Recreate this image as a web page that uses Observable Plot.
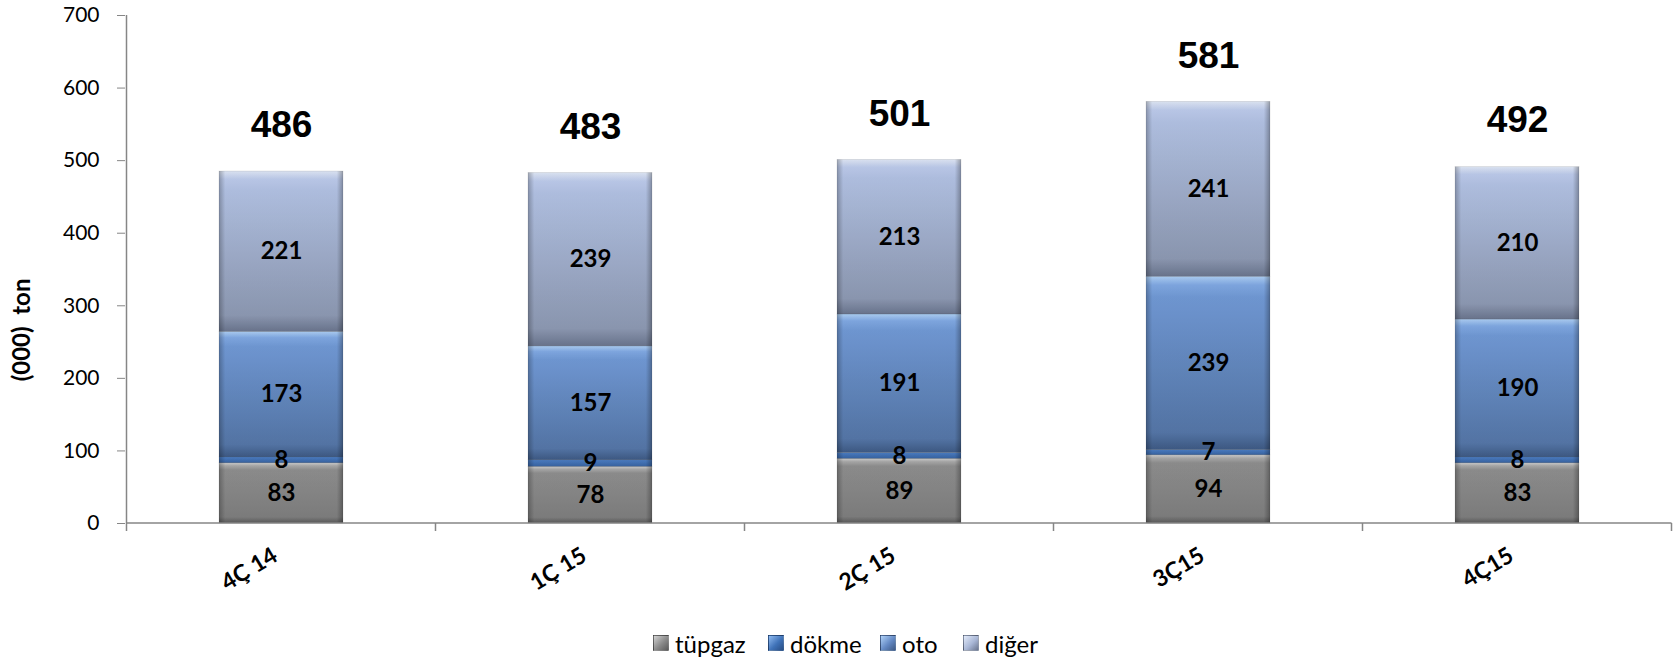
<!DOCTYPE html>
<html><head><meta charset="utf-8">
<script src="https://cdn.jsdelivr.net/npm/d3@7"></script>
<script src="https://cdn.jsdelivr.net/npm/@observablehq/plot@0.6"></script>
<style>
body{margin:0;background:#fff;width:1678px;height:661px;overflow:hidden}
#legend{position:relative;height:36px;font-family:Lato,"Open Sans",sans-serif;font-size:24px;color:#000}
#legend .it{position:absolute;top:0;height:36px;display:flex;align-items:center}
#legend .sw{width:16px;height:16px;margin-right:6px;box-sizing:border-box;border:1px solid rgba(0,0,0,0.25)}
</style></head>
<body>
<div id="chart"></div>
<div id="legend"></div>
<script>
const categories = ["4Ç 14", "1Ç 15", "2Ç 15", "3Ç15", "4Ç15"];
const series = ["tüpgaz", "dökme", "oto", "diğer"];
const tupgaz = [83, 78, 89, 94, 83];
const dokme = [8, 9, 8, 7, 8];
const oto = [173, 157, 191, 239, 190];
const diger = [221, 239, 213, 241, 210];
const totals = [486, 483, 501, 581, 492];
const yTicks = [0, 100, 200, 300, 400, 500, 600, 700];

const seriesValues = [tupgaz, dokme, oto, diger];
const gradients = [
  ["#d2d2d2", "#ababab", "#909090", "#808080", "#5c5c5c"],
  ["#8fbaf0", "#5b8fd6", "#4a7cc2", "#3a67a8", "#2a4f86"],
  ["#b0d2f8", "#82abe6", "#729bd8", "#5678aa", "#3f5b86"],
  ["#e2eaf9", "#bfcdee", "#b4c4e6", "#8f9bb5", "#6c7790"]
];
const legendColors = ["#8a8a8a", "#3f72b8", "#6489c4", "#a9b7d6"];
const legendLeft = [653, 768, 880, 963];

const data = [];
categories.forEach((c, i) => {
  series.forEach((s, k) => data.push({cat: c, series: s, k, value: seriesValues[k][i]}));
});

const font = "Lato, 'Open Sans', sans-serif";

const chart = Plot.plot({
  width: 1678,
  height: 625,
  marginLeft: 125,
  marginRight: 6,
  marginTop: 15,
  marginBottom: 102,
  style: {fontFamily: font, background: "#fff", color: "#000"},
  x: {domain: categories, paddingInner: 0.6, paddingOuter: 0.3, label: null},
  y: {domain: [0, 700], label: null},
  color: {type: "identity"},
  marks: [
    Plot.barY(data, {x: "cat", y: "value", fill: d => `url(#g${d.k})`, stroke: "rgba(0,0,0,0.15)", strokeWidth: 0.6}),
    Plot.barY(data, {x: "cat", y: "value", fill: "url(#edge)"}),
    Plot.text(data, Plot.stackY({x: "cat", y: "value", text: d => String(d.value), fontSize: 24, fontWeight: "bold", fill: "#000"})),
    Plot.text(categories, {x: d => d, y: (d, i) => totals[i], text: (d, i) => String(totals[i]), lineAnchor: "bottom", dy: -34, fontSize: 37, fontWeight: "bold", fontFamily: "'Liberation Sans', Arial, sans-serif", fill: "#000"}),
    Plot.axisY({ticks: yTicks, tickSize: 8, tickPadding: 18, fontSize: 21, stroke: "#868686", label: null}),
    Plot.axisX({tickSize: 0, tickPadding: 30, tickRotate: -31, fontSize: 23, fontWeight: "bold", dx: -6, label: null})
  ]
});

// gradients and axis lines drawn through the chart's own scales
const svg = d3.select(chart);
const defs = svg.insert("defs", ":first-child");
gradients.forEach((g, k) => {
  const lg = defs.append("linearGradient").attr("id", `g${k}`).attr("x1", 0).attr("y1", 0).attr("x2", 0).attr("y2", 1);
  [0, 0.05, 0.12, 0.9, 1].forEach((o, j) => lg.append("stop").attr("offset", o).attr("stop-color", g[j]));
});
const eg = defs.append("linearGradient").attr("id", "edge").attr("x1", 0).attr("y1", 0).attr("x2", 1).attr("y2", 0);
[[0, 0.28], [0.05, 0.04], [0.95, 0.04], [1, 0.32]].forEach(([o, a]) => eg.append("stop").attr("offset", o).attr("stop-color", "#000").attr("stop-opacity", a));

const xs = chart.scale("x"), ys = chart.scale("y");
const step = xs.step;
const y0 = ys.apply(0), yTop = ys.apply(700);
const g = svg.append("g").attr("stroke", "#868686").attr("stroke-width", 1.5);
const xStart = xs.apply(categories[0]) + xs.bandwidth / 2 - step / 2;
g.append("line").attr("x1", xStart).attr("x2", xStart).attr("y1", yTop).attr("y2", y0);
g.append("line").attr("x1", xStart).attr("x2", xStart + step * categories.length).attr("y1", y0).attr("y2", y0);
for (let i = 0; i <= categories.length; i++) {
  const xx = xStart + step * i;
  g.append("line").attr("x1", xx).attr("x2", xx).attr("y1", y0).attr("y2", y0 + 8);
}
// y axis title
svg.append("text").attr("transform", `translate(30,${ys.apply(266)}) rotate(-90)`)
  .attr("text-anchor", "middle").attr("font-family", font).attr("font-size", 24).attr("font-weight", "bold")
  .attr("fill", "#000").attr("xml:space", "preserve").style("white-space", "pre").text("(000)  ton");

document.getElementById("chart").appendChild(chart);

const legend = document.getElementById("legend");
series.forEach((s, k) => {
  const it = document.createElement("div"); it.className = "it";
  it.style.left = legendLeft[k] + "px";
  const sw = document.createElement("div"); sw.className = "sw";
  sw.style.background = `linear-gradient(135deg, ${gradients[k][0]} 0%, ${legendColors[k]} 55%, ${gradients[k][4]} 100%)`;
  const t = document.createElement("span"); t.textContent = s;
  it.appendChild(sw); it.appendChild(t); legend.appendChild(it);
});
</script>
</body></html>
